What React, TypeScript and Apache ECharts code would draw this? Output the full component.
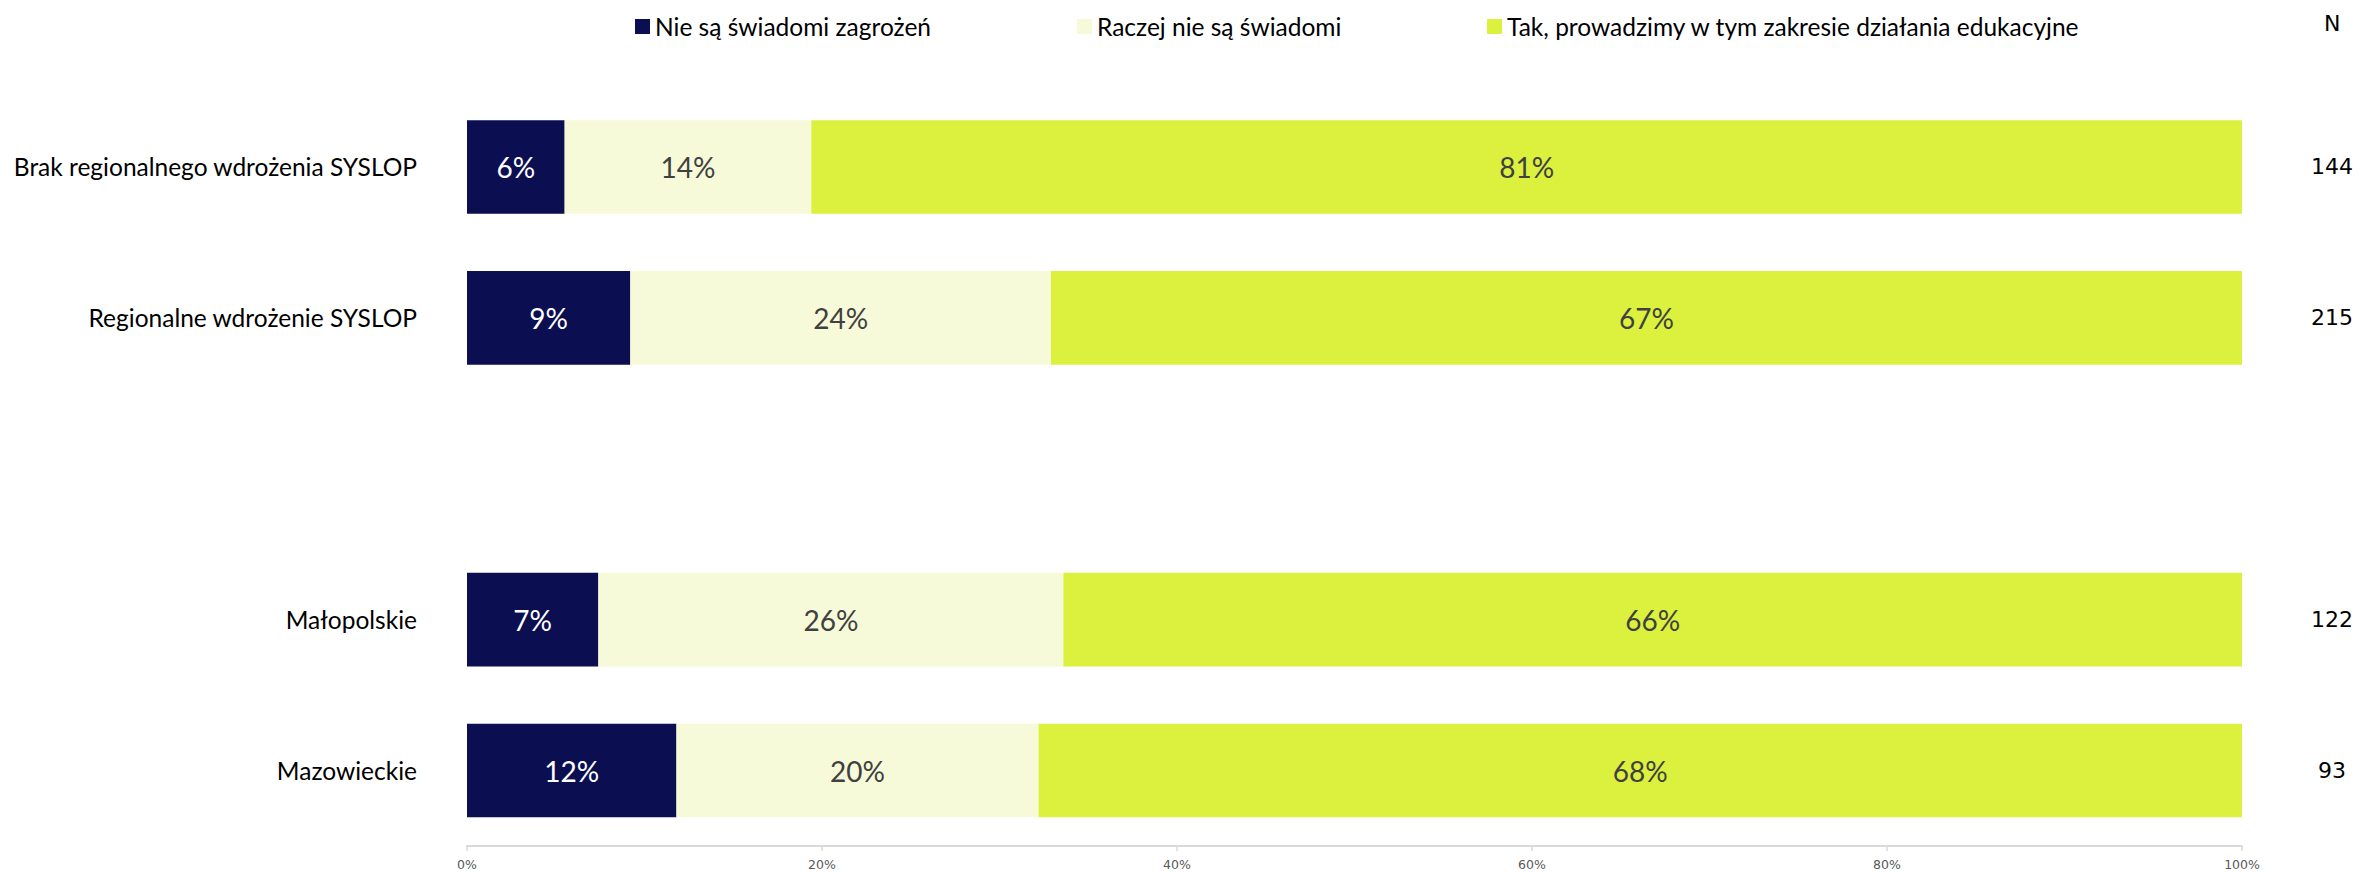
import React, { useEffect, useRef } from "react";
import * as echarts from "echarts";

const categories = [
  "Brak regionalnego wdrożenia SYSLOP",
  "Regionalne wdrożenie SYSLOP",
  "",
  "Małopolskie",
  "Mazowieckie",
];
const seriesNames = [
  "Nie są świadomi zagrożeń",
  "Raczej nie są świadomi",
  "Tak, prowadzimy w tym zakresie działania edukacyjne",
];
const notAware = [5.5, 9.2, null, 7.4, 11.8];
const ratherNot = [13.9, 23.7, null, 26.2, 20.4];
const yesEducation = [80.6, 67.1, null, 66.4, 67.8];
const nValues = ["144", "215", "", "122", "93"];
const xTicks = [0, 20, 40, 60, 80, 100];

const colors = ["#0C0E52", "#F6FAD8", "#DCF03E"];
const labelColors = ["#FFFFFF", "#404040", "#404040"];
const legendLefts = [635, 1077, 1487];

export default function App() {
  const ref = useRef<HTMLDivElement>(null);
  useEffect(() => {
    if (!ref.current) return;
    const chart = echarts.init(ref.current, null, { renderer: "svg" });
    const seriesData = [notAware, ratherNot, yesEducation];
    chart.setOption({
      animation: false,
      backgroundColor: "#FFFFFF",
      title: {
        text: "N",
        left: 2324,
        top: 12,
        padding: 0,
        textStyle: { fontFamily: "DejaVu Sans", fontSize: 22, fontWeight: "normal", color: "#000000" },
      },
      legend: seriesNames.map((n, i) => ({
        data: [n],
        left: legendLefts[i],
        top: 14,
        padding: 0,
        itemWidth: 15,
        itemHeight: 15,
        icon: "rect",
        textStyle: { fontFamily: "Lato", fontSize: 24.5, color: "#000000" },
      })),
      grid: { left: 467, right: 117, top: 91.5, bottom: 28, containLabel: false },
      xAxis: {
        type: "value",
        min: xTicks[0],
        max: xTicks[xTicks.length - 1],
        interval: 20,
        splitLine: { show: false },
        axisLine: { show: true, lineStyle: { color: "#D9D9D9", width: 2 } },
        axisTick: { show: true, length: 5, lineStyle: { color: "#D9D9D9", width: 1.5 } },
        axisLabel: {
          formatter: "{value}%",
          fontFamily: "DejaVu Sans",
          fontSize: 12.5,
          color: "#595959",
          margin: 12,
        },
      },
      yAxis: [
        {
          type: "category",
          data: categories,
          inverse: true,
          axisLine: { show: false },
          axisTick: { show: false },
          axisLabel: { fontFamily: "Lato", fontSize: 24.5, color: "#000000", margin: 50 },
        },
        {
          type: "category",
          data: nValues,
          inverse: true,
          position: "right",
          axisLine: { show: false },
          axisTick: { show: false },
          axisLabel: {
            fontFamily: "DejaVu Sans",
            fontSize: 22,
            color: "#000000",
            margin: 90,
            align: "center",
          },
        },
      ],
      series: seriesNames.map((n, i) => ({
        name: n,
        type: "bar",
        stack: "total",
        barCategoryGap: "38%",
        itemStyle: { color: colors[i] },
        label: {
          show: true,
          position: "inside",
          fontFamily: "Lato",
          fontSize: 28,
          color: labelColors[i],
          formatter: (p: any) => (p.value == null ? "" : Math.round(p.value) + "%"),
        },
        data: seriesData[i].map((v) => (v == null ? "-" : v)),
      })),
    });
    return () => chart.dispose();
  }, []);
  return (
    <div
      ref={ref}
      style={{ position: "fixed", left: 0, top: 0, width: 2359, height: 874, background: "#fff" }}
    />
  );
}
